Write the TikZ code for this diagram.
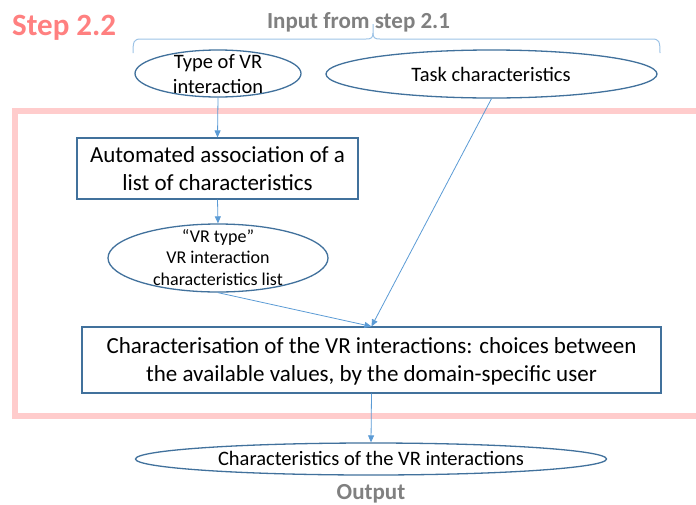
\documentclass[tikz,border=0pt]{standalone}
\usepackage{fontspec}
\setmainfont{Carlito}
\usetikzlibrary{arrows.meta,shapes.geometric}
\definecolor{pinkframe}{RGB}{255,204,204}
\definecolor{stepred}{RGB}{255,128,128}
\definecolor{ingray}{RGB}{128,128,128}
\definecolor{nodeblue}{RGB}{65,113,156}
\definecolor{linkblue}{RGB}{91,155,213}
\definecolor{braceblue}{RGB}{157,195,230}
\newcommand{\mlines}[1]{\begin{tabular}[t]{@{}c@{}}#1\end{tabular}}
\begin{document}
\begin{tikzpicture}[x=1pt,y=-1pt,
  ell/.style={draw=nodeblue,line width=1.3pt,ellipse,inner sep=0pt,fill=white},
  boxnode/.style={draw=nodeblue,line width=1.1pt,rectangle,inner sep=0pt,fill=white},
  txt/.style={anchor=base,inner sep=0pt},
  link/.style={draw=linkblue,line width=0.8pt,-{Triangle[length=7pt,width=6pt]}},
  bracestyle/.style={draw=braceblue,line width=1pt},
  frame/.style={draw=pinkframe,line width=6pt},
  title/.style={anchor=base west,inner sep=0pt,text=stepred,font=\fontsize{31}{37}\selectfont\bfseries},
  graytitle/.style={anchor=base,inner sep=0pt,text=ingray,font=\fontsize{23}{28}\selectfont\bfseries}]
\useasboundingbox (0,0) rectangle (696,504);

% pink frame (extends past right edge)
\draw[frame] (14.5,111) rectangle (730,416);

% titles
\node[title] (step) at (12,35) {Step 2.2};
\node[graytitle] (input) at (358.5,28) {Input from step 2.1};
\node[graytitle] (output) at (371,499) {Output};

% brace
\coordinate (braceL) at (133,53);
\coordinate (braceT) at (373,24);
\coordinate (braceR) at (660,53);
\draw[bracestyle] (braceL) .. controls (133,41) and (134,39) .. (141,39) -- (366,39)
  .. controls (371,39) and (373,38) .. (373,33) -- (braceT);
\draw[bracestyle] (braceR) .. controls (660,41) and (659,39) .. (652,39) -- (380,39)
  .. controls (375,39) and (373,38) .. (373,33);

% shapes
\node[ell,minimum width=166pt,minimum height=47pt] (typevr) at (218,73.5) {};
\node[ell,minimum width=331pt,minimum height=48pt] (task) at (491.5,74) {};
\node[boxnode,minimum width=281pt,minimum height=61pt] (auto) at (217.5,168.5) {};
\node[ell,minimum width=220pt,minimum height=68pt] (vrtype) at (218,258) {};
\node[boxnode,minimum width=579pt,minimum height=66pt] (charbox) at (371.5,360) {};
\node[ell,minimum width=471pt,minimum height=32pt] (outell) at (371,459) {};

% texts
\node[txt,font=\fontsize{20.5}{25}\selectfont] (typevrtxt) at (218,68) {\mlines{Type of VR\\interaction}};
\node[txt,font=\fontsize{20.5}{25}\selectfont] (tasktxt) at (491,81) {Task characteristics};
\node[txt,font=\fontsize{23}{27.3}\selectfont] (autotxt) at (217.5,162.7) {\mlines{Automated association of a\\list of characteristics}};
\node[txt,font=\fontsize{18}{21.5}\selectfont] (vrtypetxt) at (218,242) {\mlines{“VR type”\\VR interaction\\characteristics list}};
\node[txt,font=\fontsize{23}{28}\selectfont] (chartxt) at (371.5,353) {\mlines{Characterisation of the VR interactions: choices between\\the available values, by the domain-specific user}};
\node[txt,font=\fontsize{20.5}{25}\selectfont] (outtxt) at (371,465) {Characteristics of the VR interactions};

% connectors
\draw[link] (typevr.south) -- (auto.north);
\draw[link] (auto.south) -- (vrtype.north);
\draw[link] (vrtype.south) -- (charbox.north);
\draw[link] (task.south) -- (charbox.north);
\draw[link] (charbox.south) -- (outell.north);
\end{tikzpicture}
\end{document}
